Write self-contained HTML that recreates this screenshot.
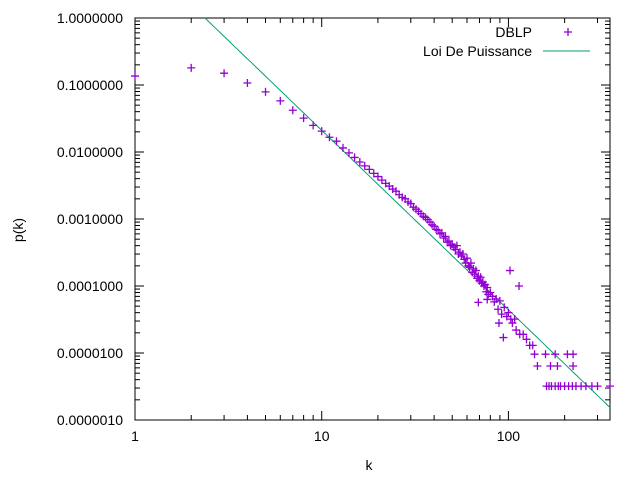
<!DOCTYPE html>
<html><head><meta charset="utf-8"><style>body{margin:0;background:#fff}svg{font-family:"Liberation Sans",sans-serif;font-size:14px}</style></head>
<body>
<svg id="c" width="640" height="480" xmlns="http://www.w3.org/2000/svg"></svg>
<script>
const kVals=[1,2,3,4,5,6,7,8,9,10,11,12,13,14,15,16,17,18,19,20,21,22,23,24,25,26,27,28,29,30,31,32,33,34,35,36,37,38,39,40,41,42,43,44,45,46,47,48,49,50,51,52,53,54,55,56,57,58,59,60,61,62,63,64,65,66,67,68,69,70,71,72,73,74,75,76,77,78,80,82,84,86,88,90,92,95,98,100,103,105,108,110,115,120,125,130,135,102,114,69,77,89,94,138,158,178,207,222,143,168,183,222,160,165,170,178,185,190,200,210,220,230,245,260,280,300,350];
const pVals=[.136,.18,.15,.107,.079,.058,.042,.032,.025,.0205,.0166,.0145,.0115,.0097,.0083,.0071,.0062,.0055,.0048,.0043,.0038,.0034,.0031,.0028,.0026,.0023,.0021,.0020,.0018,.0017,.0015,.0014,.0013,.0012,.0011,.00105,.00098,.0009,.00082,.00078,.0007,.00068,.0006,.00062,.00052,.00055,.00045,.00047,.0004,.00042,.00038,.00035,.0004,.0003,.00032,.00028,.0003,.00025,.00022,.00026,.0002,.00019,.00022,.00016,.00018,.00015,.00017,.00013,.00014,.00012,.000135,.00011,.000115,.0001,.000105,.000082,.000095,.000075,.00008,.00007,.000058,.000064,.000045,.00006,.000038,.000048,.000035,.00004,.000032,.000028,.000032,.000022,.000019,.000019,.000016,.000013,.000013,.00017,.0001,.000057,.000063,.000028,.000017,9.6e-6,9.6e-6,9.6e-6,9.6e-6,9.6e-6,6.4e-6,6.4e-6,6.4e-6,6.4e-6,3.2e-6,3.2e-6,3.2e-6,3.2e-6,3.2e-6,3.2e-6,3.2e-6,3.2e-6,3.2e-6,3.2e-6,3.2e-6,3.2e-6,3.2e-6,3.2e-6,3.2e-6];
const fitC=[10.1];
const fitExp=[-2.68];
const yTickLabels=["1.0000000","0.1000000","0.0100000","0.0010000","0.0001000","0.0000100","0.0000010"];
const xTickLabels=["1","10","100"];
const X0=135,X1=610,Y0=18,Y1=420,KMAX=350;
const sx=k=>X0+(X1-X0)*Math.log10(k)/Math.log10(KMAX);
const sy=p=>Y0+(Y1-Y0)*(-Math.log10(p))/6;
const svg=document.getElementById('c');const NS='http://www.w3.org/2000/svg';
function mk(t,a,txt){const e=document.createElementNS(NS,t);for(const q in a)e.setAttribute(q,a[q]);if(txt!=null)e.textContent=txt;svg.appendChild(e);return e;}
let e=mk('rect',{x:X0,y:Y0,width:X1-X0,height:Y1-Y0,fill:'none',stroke:'#000','stroke-width':1});


// y ticks
for(let d=0;d<=6;d++){const p=Math.pow(10,-d);const y=sy(p);
 mk('line',{x1:X0,x2:X0+9,y1:y,y2:y,stroke:'#000'});mk('line',{x1:X1,x2:X1-9,y1:y,y2:y,stroke:'#000'});
 e=mk('text',{x:123,y:y+5,'text-anchor':'end'},yTickLabels[d]);
 
 
 if(d<6)for(let m=2;m<10;m++){const yy=sy(p/10*m);mk('line',{x1:X0,x2:X0+5,y1:yy,y2:yy,stroke:'#000'});mk('line',{x1:X1,x2:X1-5,y1:yy,y2:yy,stroke:'#000'});}}
// x ticks
for(let d=0;d<3;d++){const k=Math.pow(10,d);const x=sx(k);
 mk('line',{x1:x,x2:x,y1:Y1,y2:Y1-9,stroke:'#000'});mk('line',{x1:x,x2:x,y1:Y0,y2:Y0+9,stroke:'#000'});
 e=mk('text',{x:x,y:441,'text-anchor':'middle'},xTickLabels[d]);
 
 
 for(let m=2;m<10;m++){const kk=k*m;if(kk>KMAX)break;const xx=sx(kk);mk('line',{x1:xx,x2:xx,y1:Y1,y2:Y1-5,stroke:'#000'});mk('line',{x1:xx,x2:xx,y1:Y0,y2:Y0+5,stroke:'#000'});}}
e=mk('text',{x:369,y:470,'text-anchor':'middle'},'k');


e=mk('text',{x:23,y:230,'text-anchor':'middle',transform:'rotate(-90 23 230)'},'p(k)');


// fit line
const kStart=Math.pow(fitC[0],-1/fitExp[0]);let pts=[];
for(let i=0;i<=100;i++){const k=kStart*Math.pow(KMAX/kStart,i/100);pts.push(sx(k).toFixed(1)+','+sy(fitC[0]*Math.pow(k,fitExp[0])).toFixed(1));}
e=mk('polyline',{points:pts.join(' '),fill:'none',stroke:'#009e73','stroke-width':1});


// points
for(let i=0;i<kVals.length;i++){const x=sx(kVals[i]),y=sy(pVals[i]);
 e=mk('path',{d:`M${x-4},${y}H${x+4}M${x},${y-4}V${y+4}`,stroke:'#9400d3','stroke-width':1.3});
 
 }
// legend
e=mk('text',{x:532,y:37,'text-anchor':'end'},'DBLP');


e=mk('path',{d:'M564,32H572M568,28V36',stroke:'#9400d3','stroke-width':1.3});


e=mk('text',{x:532,y:56,'text-anchor':'end'},'Loi De Puissance');


e=mk('line',{x1:543,x2:590,y1:51,y2:51,stroke:'#009e73'});


</script>
</body></html>
